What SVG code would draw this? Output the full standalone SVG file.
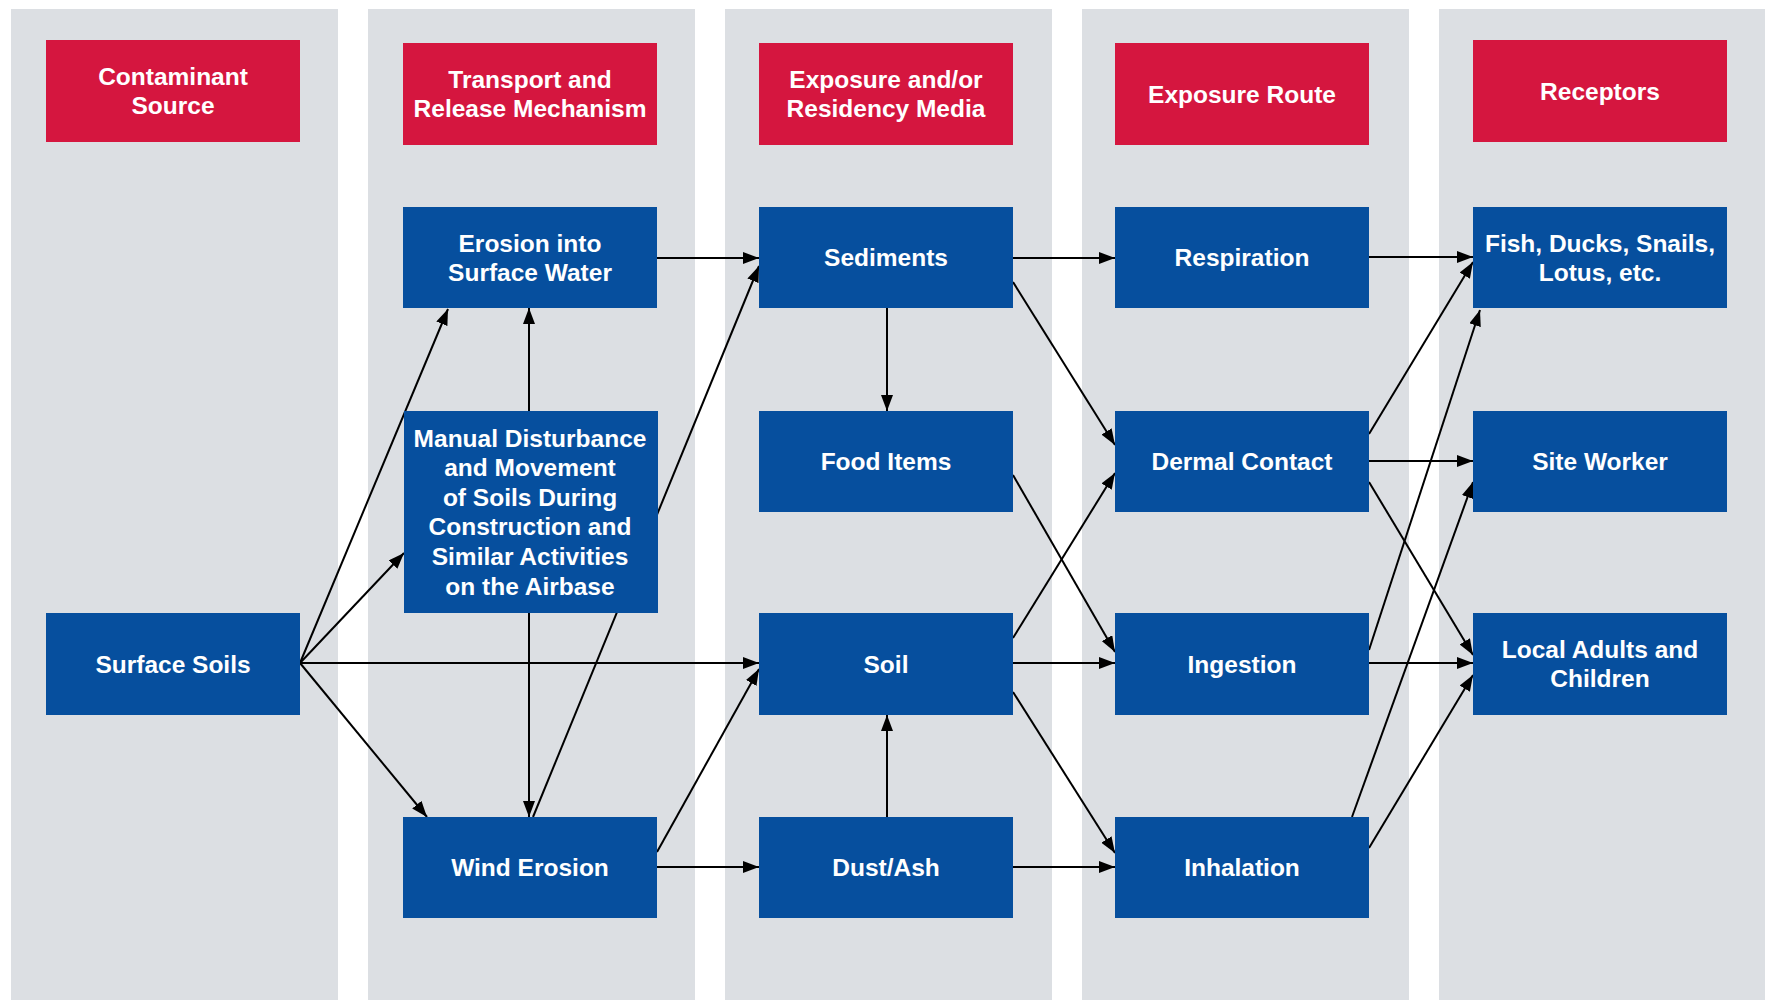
<svg xmlns="http://www.w3.org/2000/svg" width="1765" height="1000" viewBox="0 0 1765 1000">
<style>
.panel{fill:#DCDFE3}
.hdr{fill:#D5163F}
.box{fill:#064F9E}
text{font-family:"Liberation Sans",Arial,sans-serif;font-weight:bold;font-size:24.5px;fill:#FFFFFF;text-anchor:middle}
.c{stroke:#000;stroke-width:2;fill:none;marker-end:url(#ah)}
</style>
<defs>
<marker id="ah" markerUnits="userSpaceOnUse" markerWidth="16" markerHeight="12" refX="16" refY="6" orient="auto">
<path d="M0,0 L16,6 L0,12 z" fill="#000"/>
</marker>
</defs>
<rect width="1765" height="1000" fill="#FFFFFF"/>
<g id="panels">
<rect class="panel" x="11" y="9" width="327" height="991"/>
<rect class="panel" x="368" y="9" width="327" height="991"/>
<rect class="panel" x="725" y="9" width="327" height="991"/>
<rect class="panel" x="1082" y="9" width="327" height="991"/>
<rect class="panel" x="1439" y="9" width="326" height="991"/>
</g>
<g id="connectors">
<path class="c" d="M300,663 L448,309"/>
<path class="c" d="M300,663 L404,553"/>
<path class="c" d="M300,663 L759,663"/>
<path class="c" d="M300,663 L427,817"/>
<path class="c" d="M529,411 L529,308"/>
<path class="c" d="M529,613 L529,817"/>
<path class="c" d="M533,817 L759,266"/>
<path class="c" d="M656,258 L759,258"/>
<path class="c" d="M657,852 L759,669"/>
<path class="c" d="M656,867 L759,867"/>
<path class="c" d="M887,308 L887,411"/>
<path class="c" d="M887,817 L887,715"/>
<path class="c" d="M1013,258 L1115,258"/>
<path class="c" d="M1013,282 L1115,445"/>
<path class="c" d="M1013,475 L1115,652"/>
<path class="c" d="M1013,638 L1115,473"/>
<path class="c" d="M1013,663 L1115,663"/>
<path class="c" d="M1013,692 L1115,853"/>
<path class="c" d="M1013,867 L1115,867"/>
<path class="c" d="M1369,257 L1473,257"/>
<path class="c" d="M1369,434 L1473,262"/>
<path class="c" d="M1369,461 L1473,461"/>
<path class="c" d="M1369,482 L1473,655"/>
<path class="c" d="M1369,650 L1480,310"/>
<path class="c" d="M1369,663 L1473,663"/>
<path class="c" d="M1352,817 L1473,482"/>
<path class="c" d="M1369,848 L1473,675"/>
</g>
<g id="h-source"><rect class="hdr" x="46" y="40" width="254" height="102"/><text x="173" y="85">Contaminant</text><text x="173" y="114">Source</text></g>
<g id="h-transport"><rect class="hdr" x="403" y="43" width="254" height="102"/><text x="530" y="88">Transport and</text><text x="530" y="117">Release Mechanism</text></g>
<g id="h-media"><rect class="hdr" x="759" y="43" width="254" height="102"/><text x="886" y="88">Exposure and/or</text><text x="886" y="117">Residency Media</text></g>
<g id="h-route"><rect class="hdr" x="1115" y="43" width="254" height="102"/><text x="1242" y="102.5">Exposure Route</text></g>
<g id="h-receptors"><rect class="hdr" x="1473" y="40" width="254" height="102"/><text x="1600" y="99.5">Receptors</text></g>
<g id="surface-soils"><rect class="box" x="46" y="613" width="254" height="102"/><text x="173" y="672.5">Surface Soils</text></g>
<g id="erosion"><rect class="box" x="403" y="207" width="254" height="101"/><text x="530" y="251.5">Erosion into</text><text x="530" y="281">Surface Water</text></g>
<g id="manual"><rect class="box" x="404" y="411" width="254" height="202"/><text x="530" y="446.5">Manual Disturbance</text><text x="530" y="476">and Movement</text><text x="530" y="505.5">of Soils During</text><text x="530" y="535">Construction and</text><text x="530" y="565">Similar Activities</text><text x="530" y="594.5">on the Airbase</text></g>
<g id="wind"><rect class="box" x="403" y="817" width="254" height="101"/><text x="530" y="876">Wind Erosion</text></g>
<g id="sediments"><rect class="box" x="759" y="207" width="254" height="101"/><text x="886" y="266">Sediments</text></g>
<g id="food"><rect class="box" x="759" y="411" width="254" height="101"/><text x="886" y="470">Food Items</text></g>
<g id="soil"><rect class="box" x="759" y="613" width="254" height="102"/><text x="886" y="672.5">Soil</text></g>
<g id="dust"><rect class="box" x="759" y="817" width="254" height="101"/><text x="886" y="876">Dust/Ash</text></g>
<g id="respiration"><rect class="box" x="1115" y="207" width="254" height="101"/><text x="1242" y="266">Respiration</text></g>
<g id="dermal"><rect class="box" x="1115" y="411" width="254" height="101"/><text x="1242" y="470">Dermal Contact</text></g>
<g id="ingestion"><rect class="box" x="1115" y="613" width="254" height="102"/><text x="1242" y="672.5">Ingestion</text></g>
<g id="inhalation"><rect class="box" x="1115" y="817" width="254" height="101"/><text x="1242" y="876">Inhalation</text></g>
<g id="fish"><rect class="box" x="1473" y="207" width="254" height="101"/><text x="1600" y="251.5">Fish, Ducks, Snails,</text><text x="1600" y="281">Lotus, etc.</text></g>
<g id="site-worker"><rect class="box" x="1473" y="411" width="254" height="101"/><text x="1600" y="470">Site Worker</text></g>
<g id="local"><rect class="box" x="1473" y="613" width="254" height="102"/><text x="1600" y="657.5">Local Adults and</text><text x="1600" y="687">Children</text></g>
</svg>
